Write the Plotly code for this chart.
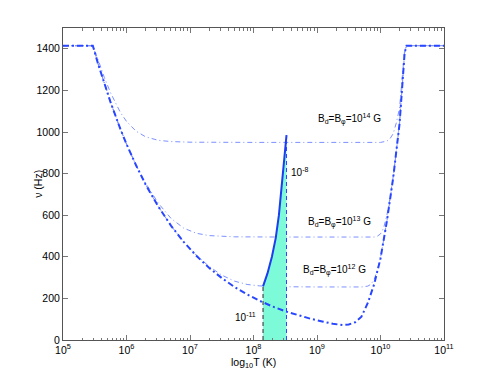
import numpy as np
import plotly.graph_objects as go

# lower envelope (thick dash-dot curve): log10 T and frequency in Hz
logT_min = [5.0, 5.47, 5.55, 5.65, 5.75, 5.9, 6.0, 6.15, 6.3, 6.5, 6.7, 6.9, 7.1, 7.3, 7.5, 7.7,
            7.9, 8.1, 8.3, 8.5, 8.7, 8.9, 9.1, 9.25, 9.4, 9.5, 9.6, 9.7, 9.8, 9.9, 10.0, 10.1,
            10.2, 10.3, 10.34, 10.38, 10.41, 11.0]
nu_min = [1415, 1415, 1330, 1232, 1142, 1017, 942, 840, 748, 642, 550, 472, 405, 347, 298, 255,
          219, 188, 161, 138, 119, 102, 88, 78, 72, 75, 85, 112, 178, 268, 392, 570,
          780, 1040, 1210, 1380, 1415, 1415]

# B_d = B_phi = 1e14 G
logT_b14 = [5.0, 5.47, 5.55, 5.65, 5.75, 5.9, 6.0, 6.15, 6.3, 6.5, 6.7, 7.0, 8.0, 9.0, 10.0,
            10.1, 10.15, 10.2, 10.25, 10.3, 10.34, 10.38, 10.41, 11.0]
nu_b14 = [1415, 1415, 1350, 1263, 1188, 1096, 1051, 1004, 977, 960, 954, 951, 950, 950, 950,
          956, 968, 992, 1045, 1115, 1240, 1395, 1415, 1415]

# B_d = B_phi = 1e13 G
logT_b13 = [5.0, 5.47, 5.55, 5.65, 5.75, 5.9, 6.0, 6.15, 6.3, 6.5, 6.7, 6.9, 7.1, 7.3, 7.5, 7.7,
            8.5, 9.5, 9.9, 9.95, 10.0, 10.05, 10.1, 10.15, 10.2, 10.3, 10.34, 10.38, 10.41, 11.0]
nu_b13 = [1415, 1415, 1330, 1232, 1142, 1017, 942, 840, 755, 658, 585, 538, 513, 502, 498, 496,
          495, 495, 495, 499, 510, 539, 599, 683, 786, 1041, 1210, 1380, 1415, 1415]

# B_d = B_phi = 1e12 G
logT_b12 = [5.0, 5.47, 5.55, 5.65, 5.75, 5.9, 6.0, 6.15, 6.3, 6.5, 6.7, 6.9, 7.1, 7.3, 7.5, 7.7,
            7.9, 8.1, 8.3, 8.5, 9.0, 9.7, 9.8, 9.85, 9.9, 9.95, 10.0, 10.1, 10.2, 10.3, 10.34,
            10.38, 10.41, 11.0]
nu_b12 = [1415, 1415, 1330, 1232, 1142, 1017, 942, 840, 748, 642, 550, 472, 408, 354, 312, 283,
          267, 260, 257, 256, 255, 255, 259, 268, 291, 334, 395, 570, 780, 1040, 1210,
          1380, 1415, 1415]

# accretion-rate curve bounding the shaded region (1e-11 ... 1e-8)
logT_acc = [8.15, 8.22, 8.29, 8.35, 8.40, 8.44, 8.48, 8.52]
nu_acc = [258, 320, 400, 490, 600, 730, 860, 985]

field_labels = ['B<sub>d</sub>=B<sub>φ</sub>=10<sup>14</sup> G',
                'B<sub>d</sub>=B<sub>φ</sub>=10<sup>13</sup> G',
                'B<sub>d</sub>=B<sub>φ</sub>=10<sup>12</sup> G']

THICK = 'rgb(40,70,255)'
THIN = 'rgb(125,145,255)'
FONT = 'Liberation Sans, Arial, sans-serif'

fig = go.Figure()

for lt, nu in [(logT_b14, nu_b14), (logT_b13, nu_b13), (logT_b12, nu_b12)]:
    fig.add_trace(go.Scatter(x=10 ** np.array(lt), y=nu, mode='lines',
                             line=dict(color=THIN, width=1, dash='5px,3px,1px,3px')))

# shaded region under the accretion curve
fig.add_trace(go.Scatter(x=10 ** np.array(logT_acc), y=nu_acc, mode='lines', fill='tozeroy',
                         fillcolor='rgb(125,250,215)',
                         line=dict(color='rgb(30,60,240)', width=2)))

# vertical dashed edges
fig.add_trace(go.Scatter(x=[10 ** logT_acc[0]] * 2, y=[0, nu_acc[0]], mode='lines',
                         line=dict(color='rgb(40,40,40)', width=1, dash='4px,3px')))
fig.add_trace(go.Scatter(x=[10 ** logT_acc[-1]] * 2, y=[0, nu_acc[-1]], mode='lines',
                         line=dict(color=THICK, width=1, dash='4px,3px')))

fig.add_trace(go.Scatter(x=10 ** np.array(logT_min), y=nu_min, mode='lines',
                         line=dict(color=THICK, width=2, dash='6px,3px,2px,3px')))

annots = [
    dict(x=9.515, y=1064, text=field_labels[0]),
    dict(x=9.36, y=566, text=field_labels[1]),
    dict(x=9.28, y=336, text=field_labels[2]),
    dict(x=8.73, y=807, text='10<sup>-8</sup>'),
    dict(x=7.88, y=112, text='10<sup>-11</sup>'),
]
for a in annots:
    a.update(xref='x', yref='y', showarrow=False, font=dict(size=10, family=FONT, color='black'))

# axis titles placed by hand
annots.append(dict(xref='paper', yref='paper', x=-0.087, y=0.5, text='ν (Hz)', textangle=-90,
                   showarrow=False, font=dict(size=10.5, family=FONT, color='black')))
annots.append(dict(xref='paper', yref='paper', x=0.5, y=-0.074, yanchor='middle',
                   text='log<sub>10</sub>T (K)', showarrow=False,
                   font=dict(size=10.5, family=FONT, color='black')))

tick_common = dict(ticks='inside', ticklen=5, tickcolor='#777', showline=True, linecolor='#555',
                   linewidth=1, mirror='ticks', showgrid=False, zeroline=False)

# page body adds an 8px margin, so the figure is shrunk to fit the window
fig.update_layout(
    width=483, height=374,
    margin=dict(l=55, r=47, t=20, b=42),
    plot_bgcolor='white', paper_bgcolor='white',
    showlegend=False,
    font=dict(family=FONT, size=10.5, color='black'),
    annotations=annots,
    xaxis=dict(type='log', range=[5, 11],
               tickvals=[10 ** k for k in range(5, 12)],
               ticktext=['10<sup>%d</sup>' % k for k in range(5, 12)],
               minor=dict(tickvals=[m * 10 ** k for k in range(5, 11) for m in range(2, 10)],
                          ticks='inside', ticklen=2.5, tickcolor='#777'),
               **tick_common),
    yaxis=dict(range=[0, 1500], tickvals=list(range(0, 1401, 200)),
               **tick_common),
)

fig.write_html("out.html")
